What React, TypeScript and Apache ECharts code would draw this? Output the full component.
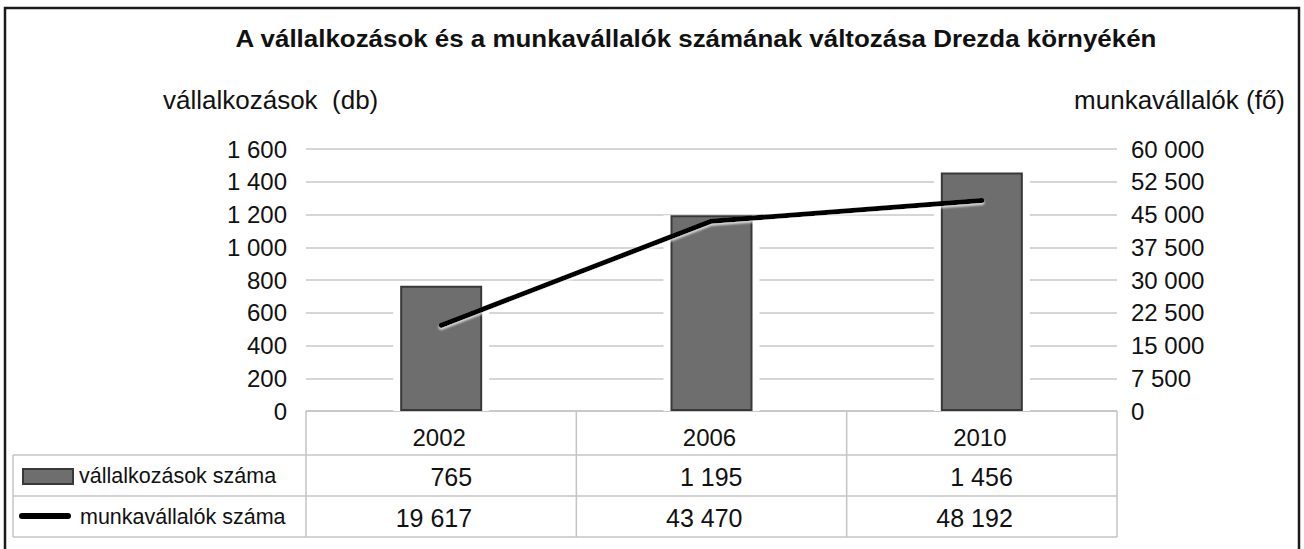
import React, { useEffect, useRef } from "react";
import * as echarts from "echarts";

const chartTitle = "A vállalkozások és a munkavállalók számának változása Drezda környékén";
const leftAxisTitle = "vállalkozások  (db)";
const rightAxisTitle = "munkavállalók (fő)";
const years = ["2002", "2006", "2010"];
const firmSeriesName = "vállalkozások száma";
const workerSeriesName = "munkavállalók száma";
const firms = [765, 1195, 1456];
const workers = [19617, 43470, 48192];
const leftMin = 0;
const leftMax = 1600;
const leftInterval = 200;
const rightMin = 0;
const rightMax = 60000;
const rightInterval = 7500;

const FONT = "'Liberation Sans', Arial, sans-serif";
const fmt = (v: number) => String(v).replace(/\B(?=(\d{3})+(?!\d))/g, " ");

function txt(
  text: string,
  x: number,
  y: number,
  size: number,
  align: string,
  weight = "normal",
  scaleX = 1
) {
  return {
    type: "text",
    z: 10,
    x,
    y,
    scaleX,
    style: {
      text,
      x: 0,
      y: 0,
      fill: "#111",
      fontSize: size,
      fontFamily: FONT,
      fontWeight: weight,
      align,
      textAlign: align,
      verticalAlign: "middle",
      textVerticalAlign: "middle",
    },
  };
}

function ln(x1: number, y1: number, x2: number, y2: number, color = "#c4c4c4", w = 1.5, z = 1) {
  return {
    type: "line",
    z,
    shape: { x1, y1, x2, y2 },
    style: { stroke: color, lineWidth: w },
  };
}

export default function App() {
  const ref = useRef<HTMLDivElement>(null);
  useEffect(() => {
    if (!ref.current) return;
    const chart = echarts.init(ref.current, null, { renderer: "svg" });
    const labelStyle = { fontSize: 24, color: "#111", fontFamily: FONT };
    chart.setOption({
      animation: false,
      backgroundColor: "#fff",
      grid: { left: 306, right: 187, top: 149, bottom: 138, containLabel: false },
      xAxis: [
        {
          type: "category",
          data: years,
          axisLine: { show: false },
          axisTick: { show: false },
          axisLabel: { show: false },
          splitLine: { show: false },
        },
        { type: "category", data: years, show: false },
      ],
      yAxis: [
        {
          type: "value",
          min: leftMin,
          max: leftMax,
          interval: leftInterval,
          axisLine: { show: false },
          axisTick: { show: false },
          axisLabel: { ...labelStyle, margin: 19, formatter: (v: number) => fmt(v) },
          splitLine: { lineStyle: { color: "#d6d6d6", width: 2 } },
        },
        {
          type: "value",
          position: "right",
          min: rightMin,
          max: rightMax,
          interval: rightInterval,
          axisLine: { show: false },
          axisTick: { show: false },
          axisLabel: { ...labelStyle, margin: 14, formatter: (v: number) => fmt(v) },
          splitLine: { show: false },
        },
      ],
      series: [
        {
          type: "bar",
          xAxisIndex: 1,
          yAxisIndex: 0,
          data: firms,
          barWidth: 96,
          silent: true,
          itemStyle: { color: "#ffffff" },
          z: 2,
        },
        {
          type: "bar",
          name: firmSeriesName,
          xAxisIndex: 0,
          yAxisIndex: 0,
          data: firms,
          barWidth: 82,
          itemStyle: { color: "#6e6e6e", borderColor: "#383838", borderWidth: 2 },
          z: 3,
        },
        {
          type: "line",
          name: workerSeriesName,
          xAxisIndex: 0,
          yAxisIndex: 1,
          data: workers,
          symbol: "none",
          lineStyle: {
            color: "#000",
            width: 5,
            cap: "round",
            join: "round",
            shadowColor: "rgba(255,255,255,0.75)",
            shadowBlur: 2,
            shadowOffsetY: 2,
          },
          z: 4,
        },
      ],
    });

    const cx = years.map((y) => chart.convertToPixel({ xAxisIndex: 0 }, y) as number);
    const y0 = chart.convertToPixel({ yAxisIndex: 0 }, leftMin) as number;
    const colW = cx[1] - cx[0];
    const tLeft = cx[0] - colW / 2;
    const tRight = cx[cx.length - 1] + colW / 2;
    const r1 = y0 + 44;
    const r2 = r1 + 41;
    const r3 = r2 + 41;
    const labelLeft = 13;

    const g: any[] = [];
    g.push({
      type: "rect",
      z: 20,
      shape: { x: 5, y: 8, width: 1294, height: 600 },
      style: { fill: "none", stroke: "#1a1a1a", lineWidth: 2.5 },
    });
    g.push(txt(chartTitle, 696, 38, 24, "center", "bold", 1.08));
    g.push(txt(leftAxisTitle, 163, 100, 25, "left", "normal", 1.04));
    g.push(txt(rightAxisTitle, 1285, 100, 25, "right", "normal", 1.04));

    g.push(ln(tLeft, y0, tRight, y0, "#c4c4c4", 1.5, 1));
    g.push(ln(labelLeft, r1, tRight, r1));
    g.push(ln(labelLeft, r2, tRight, r2));
    g.push(ln(labelLeft, r3, tRight, r3));
    g.push(ln(labelLeft, r1, labelLeft, r3));
    g.push(ln(tLeft, y0, tLeft, r3));
    for (let i = 0; i < cx.length; i++) {
      const xr = cx[i] + colW / 2;
      g.push(ln(xr, y0, xr, r3));
    }
    years.forEach((y, i) => {
      g.push(txt(y, cx[i] - 2, (y0 + r1) / 2 + 4, 24, "center"));
      g.push(txt(fmt(firms[i]), cx[i] + 31, (r1 + r2) / 2 + 1, 25, "right"));
      g.push(txt(fmt(workers[i]), cx[i] + 31, (r2 + r3) / 2 + 1, 25, "right"));
    });
    g.push({
      type: "rect",
      z: 5,
      shape: { x: 23, y: 469, width: 50, height: 15 },
      style: { fill: "#6e6e6e", stroke: "#383838", lineWidth: 2 },
    });
    g.push({
      type: "line",
      z: 5,
      shape: { x1: 22, y1: 516, x2: 68, y2: 516 },
      style: { stroke: "#000", lineWidth: 6, lineCap: "round" },
    });
    g.push(txt(firmSeriesName, 79, (r1 + r2) / 2, 21.5, "left"));
    g.push(txt(workerSeriesName, 80, (r2 + r3) / 2, 21.5, "left"));

    chart.setOption({ graphic: g });
    return () => chart.dispose();
  }, []);
  return (
    <div
      ref={ref}
      style={{ position: "absolute", left: 0, top: 0, width: 1304, height: 549 }}
    />
  );
}
